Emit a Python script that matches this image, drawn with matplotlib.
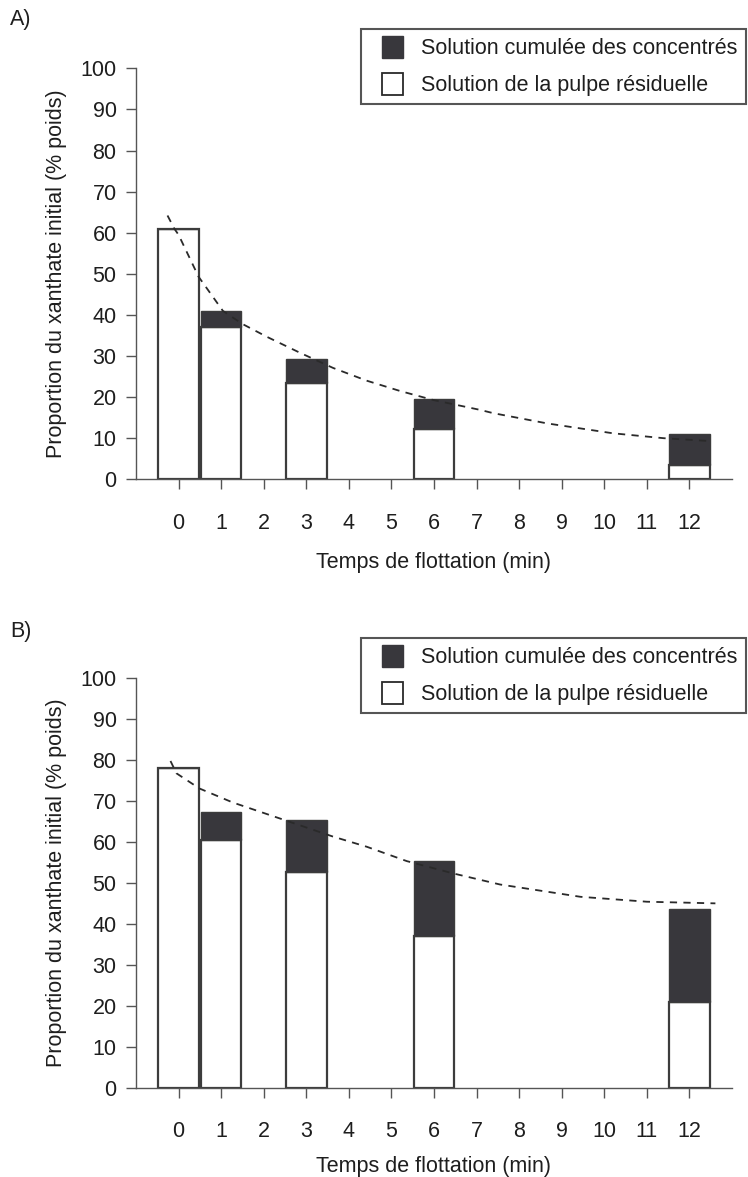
import matplotlib
matplotlib.use("Agg")
import matplotlib.pyplot as plt
from matplotlib.patches import Patch, Rectangle
from matplotlib.legend_handler import HandlerPatch

plt.rcParams['font.family'] = ['Liberation Sans', 'DejaVu Sans']

categories = ['0', '1', '2', '3', '4', '5', '6', '7', '8', '9', '10', '11', '12']
bar_times = ['0', '1', '3', '6', '12']

# Panel A
a_residual = [60.9, 37.0, 23.5, 12.3, 3.5]
a_total = [60.9, 41.0, 29.3, 19.6, 11.0]
a_curve_x = [-0.26, -0.1, 0.0, 0.47, 1.04, 1.5, 2.07, 2.85, 3.63, 4.42, 5.2, 5.98, 7.08, 7.39, 8.66, 10.2, 11.4, 12.49]
a_curve_y = [64.2, 61.0, 59.5, 49.3, 41.0, 37.8, 34.7, 30.8, 27.1, 24.0, 21.5, 19.3, 16.9, 16.1, 13.6, 11.2, 10.0, 9.3]

# Panel B
b_residual = [78.1, 60.4, 52.6, 37.1, 21.0]
b_total = [78.1, 67.2, 65.4, 55.3, 43.6]
b_curve_x = [-0.19, -0.05, 0.49, 1.27, 2.49, 3.62, 4.42, 5.36, 6.45, 7.55, 9.44, 11.0, 12.61]
b_curve_y = [79.7, 76.7, 73.0, 69.6, 65.3, 61.3, 58.8, 55.3, 52.3, 49.6, 46.6, 45.4, 45.0]

legend_labels = ['Solution cumulée des concentrés', 'Solution de la pulpe résiduelle']
panel_labels = ['A)', 'B)']
ylabel = 'Proportion du xanthate initial (% poids)'
xlabel = 'Temps de flottation (min)'

DARK = '#38373c'
EDGE = '#3c3c3c'
TXT = '#1e1e1e'
FS = 15.5


def square_patch(legend, orig_handle, xdescent, ydescent, width, height, fontsize):
    side = fontsize * 1.0
    return Rectangle((-xdescent + width - side, -ydescent + (height - side) / 2.0), side, side)


fig = plt.figure(figsize=(7.48, 11.77), dpi=100)

axes_rects = [
    [136/748, 1 - 479.3/1177, 596/748, (479.3 - 68.4)/1177],
    [136/748, 1 - 1088/1177, 596/748, (1088 - 677.7)/1177],
]
legend_tops = [29/1177, 638/1177]
panel_label_y = [20/1177, 632/1177]
xlabel_pads = [13, 10]

datasets = [
    (a_residual, a_total, a_curve_x, a_curve_y),
    (b_residual, b_total, b_curve_x, b_curve_y),
]

for i, (rect, (res, tot, cx, cy)) in enumerate(zip(axes_rects, datasets)):
    ax = fig.add_axes(rect)
    pos = [categories.index(t) for t in bar_times]
    conc = [t - r for t, r in zip(tot, res)]
    ax.bar(pos, res, width=0.95, color='white', edgecolor=EDGE, linewidth=1.6, zorder=2)
    ax.bar(pos, conc, bottom=res, width=0.95, color=DARK, edgecolor=EDGE, linewidth=1.0, zorder=2)
    ax.plot(cx, cy, linestyle=(0, (4, 3.5)), color='#2a2a2a', linewidth=1.3, zorder=3)
    ax.set_xlim(-1.0, 13.0)
    ax.set_ylim(0, 100)
    ax.set_yticks(range(0, 101, 10))
    ax.set_xticks(range(len(categories)))
    ax.set_xticklabels(categories)
    for s in ['top', 'right']:
        ax.spines[s].set_visible(False)
    for s in ['left', 'bottom']:
        ax.spines[s].set_color('#555555')
        ax.spines[s].set_linewidth(1.0)
    ax.tick_params(axis='y', direction='out', length=7, width=1, color='#555555', pad=7, labelsize=FS, labelcolor=TXT)
    ax.tick_params(axis='x', direction='out', length=7, width=1, color='#555555', pad=17, labelsize=FS, labelcolor=TXT)
    ax.set_ylabel(ylabel, fontsize=FS, color=TXT, labelpad=10)
    ax.set_xlabel(xlabel, fontsize=FS, color=TXT, labelpad=xlabel_pads[i])

    handles = [Patch(facecolor=DARK, edgecolor=DARK, linewidth=1.0),
               Patch(facecolor='white', edgecolor='#2a2a2a', linewidth=1.3)]
    leg = fig.legend(handles, legend_labels, loc='upper right',
                     bbox_to_anchor=(746/748, 1 - legend_tops[i]),
                     fontsize=FS, frameon=True, fancybox=False, edgecolor='#2a2a2a',
                     handlelength=1.6, handleheight=1.0, handletextpad=0.85,
                     labelspacing=0.7, borderpad=0.38, borderaxespad=0.0,
                     handler_map={Patch: HandlerPatch(patch_func=square_patch)},
                     labelcolor=TXT)
    leg.get_frame().set_linewidth(1.5)
    fig.text(10/748, 1 - panel_label_y[i], panel_labels[i], fontsize=FS, va='center', ha='left', color=TXT)

fig.savefig('out.png', dpi=100)
